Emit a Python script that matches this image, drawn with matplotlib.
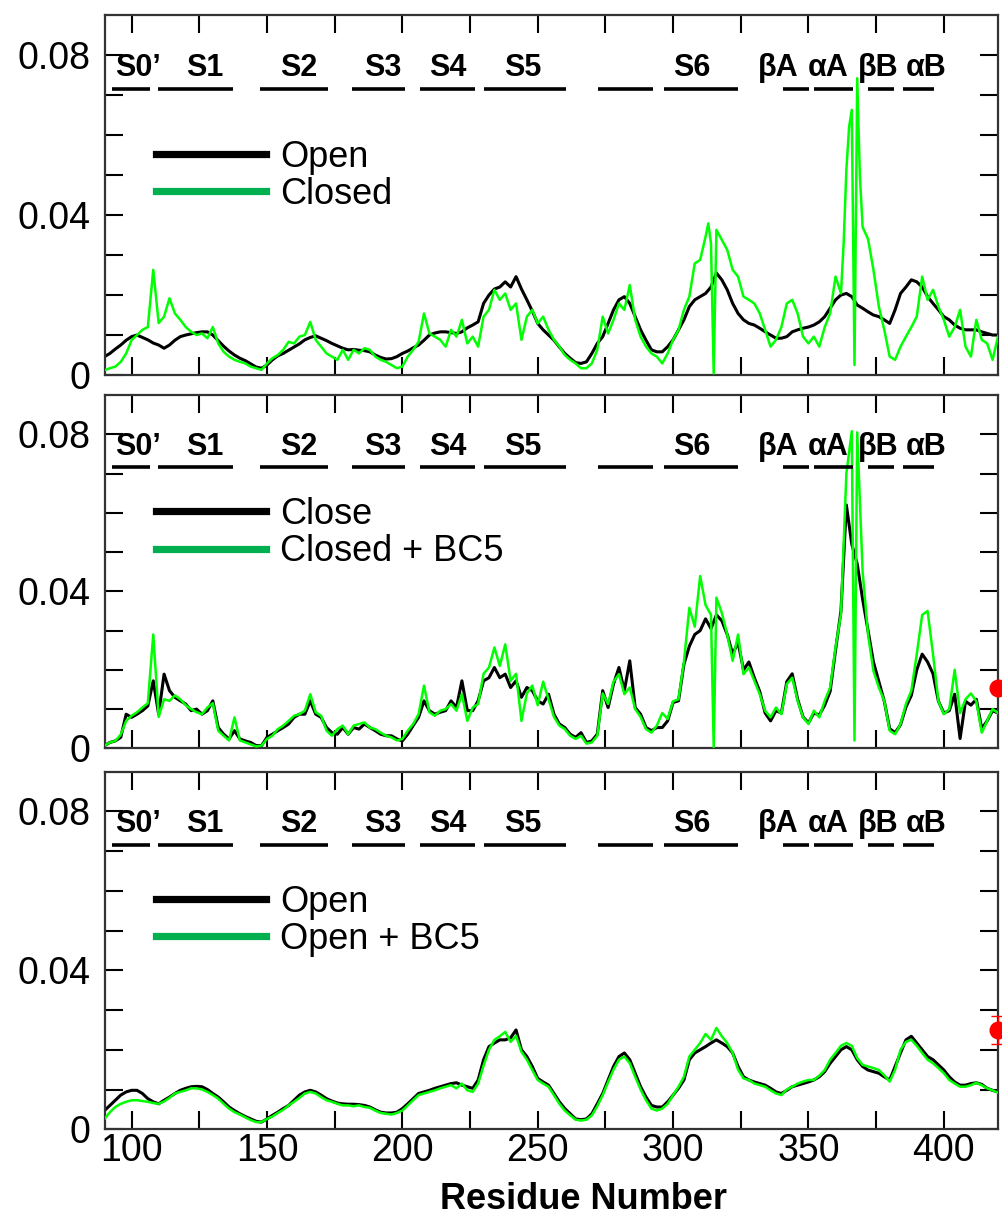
import numpy as np
import matplotlib
matplotlib.use("Agg")
import matplotlib.pyplot as plt
from matplotlib.lines import Line2D

plt.rcParams['font.family'] = ['Liberation Sans', 'DejaVu Sans']

# residue numbers (every second residue) and RMSF-like values, in units of 1e-3
residues = np.arange(90, 421, 2)

top_open = [4.6, 5.4, 6.5, 7.5, 8.7, 9.6, 10.0, 9.4, 8.8, 8.0,
            7.5, 6.7, 7.5, 8.7, 9.6, 10.0, 10.3, 10.6, 10.8, 10.8,
            10.0, 8.6, 7.2, 6.0, 5.0, 4.2, 3.6, 2.8, 2.0, 1.7,
            2.5, 3.8, 4.8, 5.4, 6.2, 7.0, 7.8, 8.8, 9.4, 9.8,
            9.2, 8.6, 7.9, 7.3, 6.7, 6.3, 6.4, 6.2, 6.1, 5.8,
            5.0, 4.4, 4.0, 4.1, 4.6, 5.4, 6.0, 6.8, 7.5, 8.7,
            10.0, 10.5, 10.8, 10.8, 10.6, 10.4, 10.8, 11.8, 12.5, 13.3,
            17.9, 20.0, 21.5, 22.0, 23.3, 22.0, 24.6, 21.5, 18.8, 16.0,
            12.9, 11.3, 10.0, 8.7, 7.0, 5.4, 4.2, 3.1, 2.9, 3.3,
            5.4, 7.9, 9.6, 12.9, 16.3, 18.8, 19.6, 17.9, 14.6, 11.3,
            8.7, 6.3, 5.8, 5.8, 7.1, 8.8, 11.3, 13.8, 17.1, 18.8,
            19.6, 20.4, 22.0, 25.5, 23.8, 21.3, 17.9, 15.4, 13.8, 12.9,
            12.5, 11.7, 10.8, 10.0, 9.2, 9.2, 9.6, 10.8, 11.3, 11.7,
            12.0, 12.5, 13.3, 14.6, 16.7, 18.8, 20.0, 20.4, 19.6, 17.5,
            16.7, 15.8, 15.0, 14.6, 13.8, 12.9, 16.3, 20.4, 22.0, 23.8,
            23.3, 22.0, 19.6, 17.9, 16.3, 14.6, 13.8, 12.5, 11.7, 11.3,
            11.3, 11.3, 10.8, 10.4, 10.0, 10.0]

top_closed = [1.2, 1.7, 2.1, 3.3, 5.4, 8.7, 10.0, 11.3, 12.0, 26.3,
              13.0, 14.6, 19.2, 15.4, 13.8, 12.0, 10.8, 10.0, 10.4, 9.2,
              12.0, 7.9, 5.8, 4.6, 3.8, 3.3, 2.9, 2.1, 1.7, 1.3,
              2.9, 4.2, 5.0, 6.3, 8.3, 7.9, 9.6, 10.0, 13.3, 8.8,
              7.1, 5.4, 4.6, 3.8, 6.3, 3.8, 6.3, 5.4, 6.7, 6.3,
              4.6, 3.8, 3.3, 2.5, 1.7, 2.1, 4.6, 6.3, 8.3, 15.4,
              10.4, 9.6, 8.8, 7.1, 11.3, 9.6, 13.8, 7.9, 9.6, 7.1,
              14.6, 16.3, 21.3, 18.8, 20.4, 16.3, 17.9, 8.8, 14.6, 16.3,
              12.9, 14.6, 11.3, 8.8, 7.1, 5.0, 3.8, 2.9, 1.7, 1.7,
              2.9, 6.3, 14.6, 10.4, 13.8, 17.9, 16.3, 22.5, 13.8, 9.6,
              7.1, 5.4, 4.6, 2.9, 5.4, 8.8, 11.3, 16.3, 19.6, 27.9,
              28.8, 34.6, 32.9, 36.3, 33.8, 31.3, 26.3, 24.6, 19.6, 18.8,
              17.9, 15.4, 11.3, 7.1, 8.8, 12.0, 17.9, 18.8, 15.4, 9.6,
              7.9, 9.6, 7.1, 12.0, 15.4, 24.6, 20.4, 51.3, 66.3, 74.2,
              37.0, 34.0, 26.3, 17.1, 11.3, 4.6, 3.8, 7.1, 9.6, 12.0,
              14.6, 24.6, 18.8, 21.3, 17.1, 13.8, 9.6, 12.0, 16.3, 7.1,
              4.6, 13.8, 8.8, 7.9, 3.8, 9.6]
# sharp features at odd residues
top_closed_extra_res = [313, 315, 363, 365, 367, 369]
top_closed_extra_val = [37.9, 0.4, 33.0, 62.0, 2.5, 49.6]

mid_close = [0.7, 1.5, 1.9, 2.8, 8.7, 7.9, 8.7, 9.6, 10.8, 17.2,
             8.7, 18.9, 14.7, 13.0, 12.1, 11.3, 9.6, 10.0, 8.7, 9.6,
             12.1, 5.3, 3.6, 2.4, 4.5, 2.4, 1.9, 1.5, 0.7, 0.7,
             2.8, 3.6, 4.5, 5.3, 6.2, 7.9, 8.7, 8.7, 12.1, 8.7,
             7.9, 5.3, 4.0, 3.6, 5.3, 3.6, 5.3, 4.9, 6.2, 5.3,
             4.5, 3.6, 3.2, 3.2, 2.4, 1.9, 3.6, 5.8, 7.9, 12.1,
             9.6, 8.7, 9.2, 9.6, 12.1, 10.4, 17.2, 9.6, 9.6, 12.1,
             17.2, 18.0, 20.6, 18.0, 18.9, 15.5, 17.2, 13.0, 15.5, 14.7,
             12.1, 11.3, 13.8, 8.7, 6.2, 5.3, 3.6, 2.8, 4.0, 1.5,
             1.9, 3.6, 14.7, 10.4, 16.4, 20.6, 14.7, 22.3, 10.4, 8.7,
             5.3, 4.5, 5.3, 5.3, 7.0, 11.7, 12.1, 21.4, 26.0, 29.0,
             30.0, 33.0, 30.5, 34.0, 32.5, 29.0, 24.0, 27.0, 20.0, 22.0,
             18.0, 14.5, 9.0, 7.0, 9.6, 9.0, 17.0, 19.0, 12.5, 8.0,
             6.5, 9.0, 8.5, 11.0, 14.5, 25.0, 35.0, 62.0, 52.0, 47.0,
             38.0, 30.0, 22.0, 17.0, 12.0, 5.0, 4.0, 6.0, 10.5, 13.5,
             20.0, 24.0, 22.0, 19.0, 12.0, 9.0, 9.6, 13.8, 2.5, 12.0,
             11.0, 12.5, 5.0, 7.0, 9.6, 9.0]

mid_bc5 = [0.7, 1.5, 1.9, 3.5, 7.0, 8.3, 9.2, 10.4, 11.5, 29.0,
           8.0, 12.5, 12.1, 13.5, 12.5, 11.0, 10.0, 9.2, 8.7, 10.4,
           11.5, 4.5, 3.2, 2.0, 7.9, 2.0, 1.5, 1.0, 0.5, 0.7,
           2.4, 3.2, 4.9, 5.8, 7.0, 8.3, 8.7, 9.6, 13.8, 9.2,
           8.3, 4.5, 3.2, 4.9, 5.8, 3.6, 5.8, 6.2, 6.6, 5.3,
           4.9, 4.0, 3.2, 2.8, 2.0, 2.4, 4.5, 6.2, 8.7, 16.0,
           9.2, 8.3, 9.6, 10.0, 11.3, 9.6, 13.8, 7.0, 10.4, 11.3,
           19.0, 20.6, 25.7, 21.0, 26.5, 17.2, 19.0, 7.0, 14.0, 16.0,
           11.0, 17.0, 12.5, 8.0, 5.8, 4.9, 3.2, 2.4, 3.2, 1.2,
           1.5, 3.2, 14.0, 11.3, 17.0, 18.9, 13.8, 15.5, 10.0, 8.0,
           4.9, 4.0, 5.8, 9.0, 7.5, 12.0, 12.5, 22.0, 35.8, 31.0,
           43.9, 36.5, 34.0, 38.4, 34.5, 29.0, 22.3, 29.0, 18.9, 20.6,
           17.2, 13.8, 9.6, 7.9, 10.4, 8.7, 16.4, 18.0, 12.1, 7.9,
           6.2, 9.6, 7.9, 12.1, 15.5, 25.7, 34.2, 70.0, 80.8, 80.5,
           45.0, 29.0, 19.7, 15.5, 12.1, 4.5, 3.6, 6.2, 11.3, 14.7,
           24.0, 34.0, 35.0, 24.0, 12.0, 8.7, 10.0, 20.0, 9.0, 12.5,
           14.0, 12.0, 4.0, 7.0, 10.0, 9.0]
mid_bc5_extra_res = [315, 367]
mid_bc5_extra_val = [0.3, 2.0]

bot_open = [4.7, 6.0, 7.3, 8.6, 9.4, 9.8, 9.8, 9.0, 7.7, 6.9,
            6.4, 7.3, 8.1, 9.0, 9.8, 10.3, 10.7, 10.8, 10.7, 10.0,
            9.0, 8.1, 6.9, 5.6, 4.7, 3.9, 3.2, 2.6, 2.0, 1.8,
            2.6, 3.5, 4.3, 5.2, 6.0, 7.3, 8.6, 9.4, 9.8, 9.4,
            8.6, 7.7, 7.1, 6.6, 6.4, 6.3, 6.3, 6.2, 6.0, 5.6,
            4.9, 4.3, 4.1, 4.1, 4.3, 5.2, 6.4, 7.7, 9.0, 9.4,
            9.8, 10.3, 10.7, 11.1, 11.5, 11.7, 11.1, 10.7, 10.3, 12.4,
            17.5, 20.8, 21.7, 22.5, 22.5, 23.0, 25.0, 20.0, 18.3, 15.8,
            12.8, 11.9, 11.1, 9.0, 6.9, 5.2, 3.9, 2.6, 2.4, 2.6,
            3.9, 6.4, 9.0, 12.4, 15.8, 18.3, 19.2, 17.5, 14.1, 10.7,
            8.1, 6.0, 5.6, 5.6, 6.9, 8.6, 10.3, 12.4, 17.5, 19.2,
            20.0, 20.8, 21.7, 22.5, 21.7, 20.8, 19.2, 15.8, 13.2, 12.4,
            11.9, 11.5, 11.1, 10.3, 9.4, 9.0, 9.8, 10.7, 11.1, 11.5,
            11.9, 12.4, 13.2, 14.5, 16.6, 18.3, 20.0, 20.8, 20.0, 17.5,
            15.8, 14.9, 14.5, 14.1, 13.2, 12.4, 15.8, 19.2, 22.5, 23.4,
            21.7, 20.0, 18.3, 17.5, 16.2, 14.9, 13.2, 11.9, 11.1, 11.1,
            11.5, 11.7, 11.3, 10.3, 9.8, 9.4]

bot_bc5 = [2.6, 4.3, 5.6, 6.4, 6.9, 7.3, 7.3, 7.1, 6.9, 6.6,
           6.4, 7.0, 7.9, 9.0, 9.4, 9.8, 10.3, 10.3, 10.0, 9.4,
           8.6, 7.7, 6.4, 5.2, 4.3, 3.7, 3.0, 2.3, 1.8, 1.8,
           2.6, 3.2, 4.1, 4.9, 6.0, 6.9, 7.9, 9.0, 9.4, 9.0,
           8.1, 7.3, 6.9, 6.4, 6.0, 6.0, 5.8, 6.0, 5.6, 5.4,
           4.7, 4.1, 3.9, 3.7, 4.1, 4.7, 6.0, 7.3, 8.6, 9.0,
           9.4, 9.8, 10.3, 10.7, 11.1, 10.3, 11.5, 9.8, 9.4, 11.5,
           16.0, 20.0, 22.5, 23.4, 24.5, 22.0, 23.5, 19.5, 17.5, 14.9,
           12.4, 11.5, 10.7, 8.6, 6.4, 4.7, 3.5, 2.4, 2.2, 2.4,
           3.5, 5.8, 8.6, 11.9, 15.0, 17.5, 18.3, 16.6, 13.2, 10.0,
           7.3, 5.2, 4.7, 5.2, 6.4, 8.6, 10.7, 13.2, 18.3, 20.0,
           21.7, 24.0, 22.5, 25.5, 23.4, 21.7, 19.2, 15.0, 12.8, 12.4,
           11.5, 11.1, 10.7, 9.8, 9.0, 8.6, 10.0, 10.7, 11.5, 12.0,
           12.4, 12.4, 13.5, 14.9, 17.5, 19.2, 21.0, 21.7, 21.0, 17.9,
           16.2, 15.8, 15.4, 14.9, 13.6, 12.0, 15.0, 20.0, 22.0, 22.5,
           21.0, 19.2, 17.5, 16.6, 15.4, 14.1, 12.4, 11.5, 10.7, 10.7,
           11.1, 11.7, 11.1, 10.3, 9.8, 9.2]

# BC5 reference points at the C-terminal edge
dot_res = [420]
mid_dot = [0.0153]
bot_dot = [0.0250]
bot_dot_err = [0.0035]

# secondary-structure segments
seg_start = [92.6, 109.9, 147.5, 181.5, 206.4, 230.2, 272.3, 296.6, 340.7, 352.2, 371.9, 385.1]
seg_end = [106.8, 137.4, 172.6, 200.9, 226.9, 260.6, 292.5, 324.1, 350.1, 366.4, 381.5, 396.4]
seg_names = ["S0\u2019", "S1", "S2", "S3", "S4", "S5", "S6", "\u03b2A", "\u03b1A", "\u03b2B", "\u03b1B"]
seg_name_x = [102.5, 127.2, 161.9, 192.7, 216.9, 244.5, 307.0, 339.0, 357.3, 375.6, 393.5]

x_major = [100, 150, 200, 250, 300, 350, 400]
x_minor = [125, 175, 225, 275, 325, 375]


def merge(res, vals, extra_res, extra_vals):
    x = np.concatenate([res, extra_res])
    y = np.concatenate([vals, extra_vals])
    order = np.argsort(x, kind="stable")
    return x[order], y[order] / 1000.0


GREEN = "#00ff00"
LEG_GREEN = "#00b050"

fig = plt.figure(figsize=(10.02, 12.22), dpi=100)
ax_left, ax_w = 0.1043, 0.8917
ax1 = fig.add_axes([ax_left, 0.6931, ax_w, 0.2946])
ax2 = fig.add_axes([ax_left, 0.3876, ax_w, 0.2891])
ax3 = fig.add_axes([ax_left, 0.0759, ax_w, 0.2926])

panels = [
    (ax1, top_open, top_closed, top_closed_extra_res, top_closed_extra_val, ["Open", "Closed"], 0.553),
    (ax2, mid_close, mid_bc5, mid_bc5_extra_res, mid_bc5_extra_val, ["Close", "Closed + BC5"], 0.609),
    (ax3, bot_open, bot_bc5, [], [], ["Open", "Open + BC5"], 0.583),
]

bar_level = np.full(len(seg_start), 0.0716)

for ax, black_vals, green_vals, ex_r, ex_v, labels, leg_y in panels:
    bx, by = merge(residues, black_vals, [], [])
    gx, gy = merge(residues, green_vals, ex_r, ex_v)
    ax.plot(bx, by, color="black", lw=2.2, zorder=2)
    ax.plot(gx, gy, color=GREEN, lw=1.8, zorder=3)

    # secondary-structure bars and names
    ax.hlines(bar_level, seg_start, seg_end, colors="black", lw=2.6, zorder=4)
    for name, xc in zip(seg_names, seg_name_x):
        ax.text(xc, 0.0748, name, ha="center", va="baseline",
                fontsize=22, fontweight="bold", zorder=5)

    handles = [Line2D([], [], color="black", lw=5.2),
               Line2D([], [], color=LEG_GREEN, lw=5.2)]
    ax.legend(handles, labels, loc="center left", bbox_to_anchor=(0.0576, leg_y),
              frameon=False, fontsize=26, handlelength=3.05, handletextpad=0.39,
              labelspacing=0.06, borderpad=0, borderaxespad=0)

    ax.set_xlim(90, 420)
    ax.set_ylim(0, 0.09)
    ax.set_xticks(x_major)
    ax.set_xticks(x_minor, minor=True)
    ax.set_yticks([0, 0.04, 0.08])
    ax.set_yticklabels(["0", "0.04", "0.08"])
    ax.set_yticks([0.01, 0.02, 0.03, 0.05, 0.06, 0.07], minor=True)
    ax.tick_params(which="both", direction="in", length=13, width=1.5,
                   top=True, right=True, colors="black")
    ax.tick_params(axis="y", labelsize=27, pad=10)
    ax.tick_params(axis="x", labelsize=27, pad=3, labelbottom=(ax is ax3))
    for sp in ax.spines.values():
        sp.set_linewidth(1.6)
        sp.set_color("#333333")

ax2.plot(dot_res, mid_dot, "o", color="red", ms=12, clip_on=False, zorder=6)
line, caps, bars = ax3.errorbar(dot_res, bot_dot, yerr=bot_dot_err, fmt="o", color="red",
                                ms=12, capsize=5, elinewidth=1, capthick=1, zorder=6)
for artist in [line, *caps, *bars]:
    artist.set_clip_on(False)

fig.text(0.582, 0.011, "Residue Number", ha="center", va="baseline",
         fontsize=26, fontweight="bold")

fig.savefig("out.png", dpi=100)
